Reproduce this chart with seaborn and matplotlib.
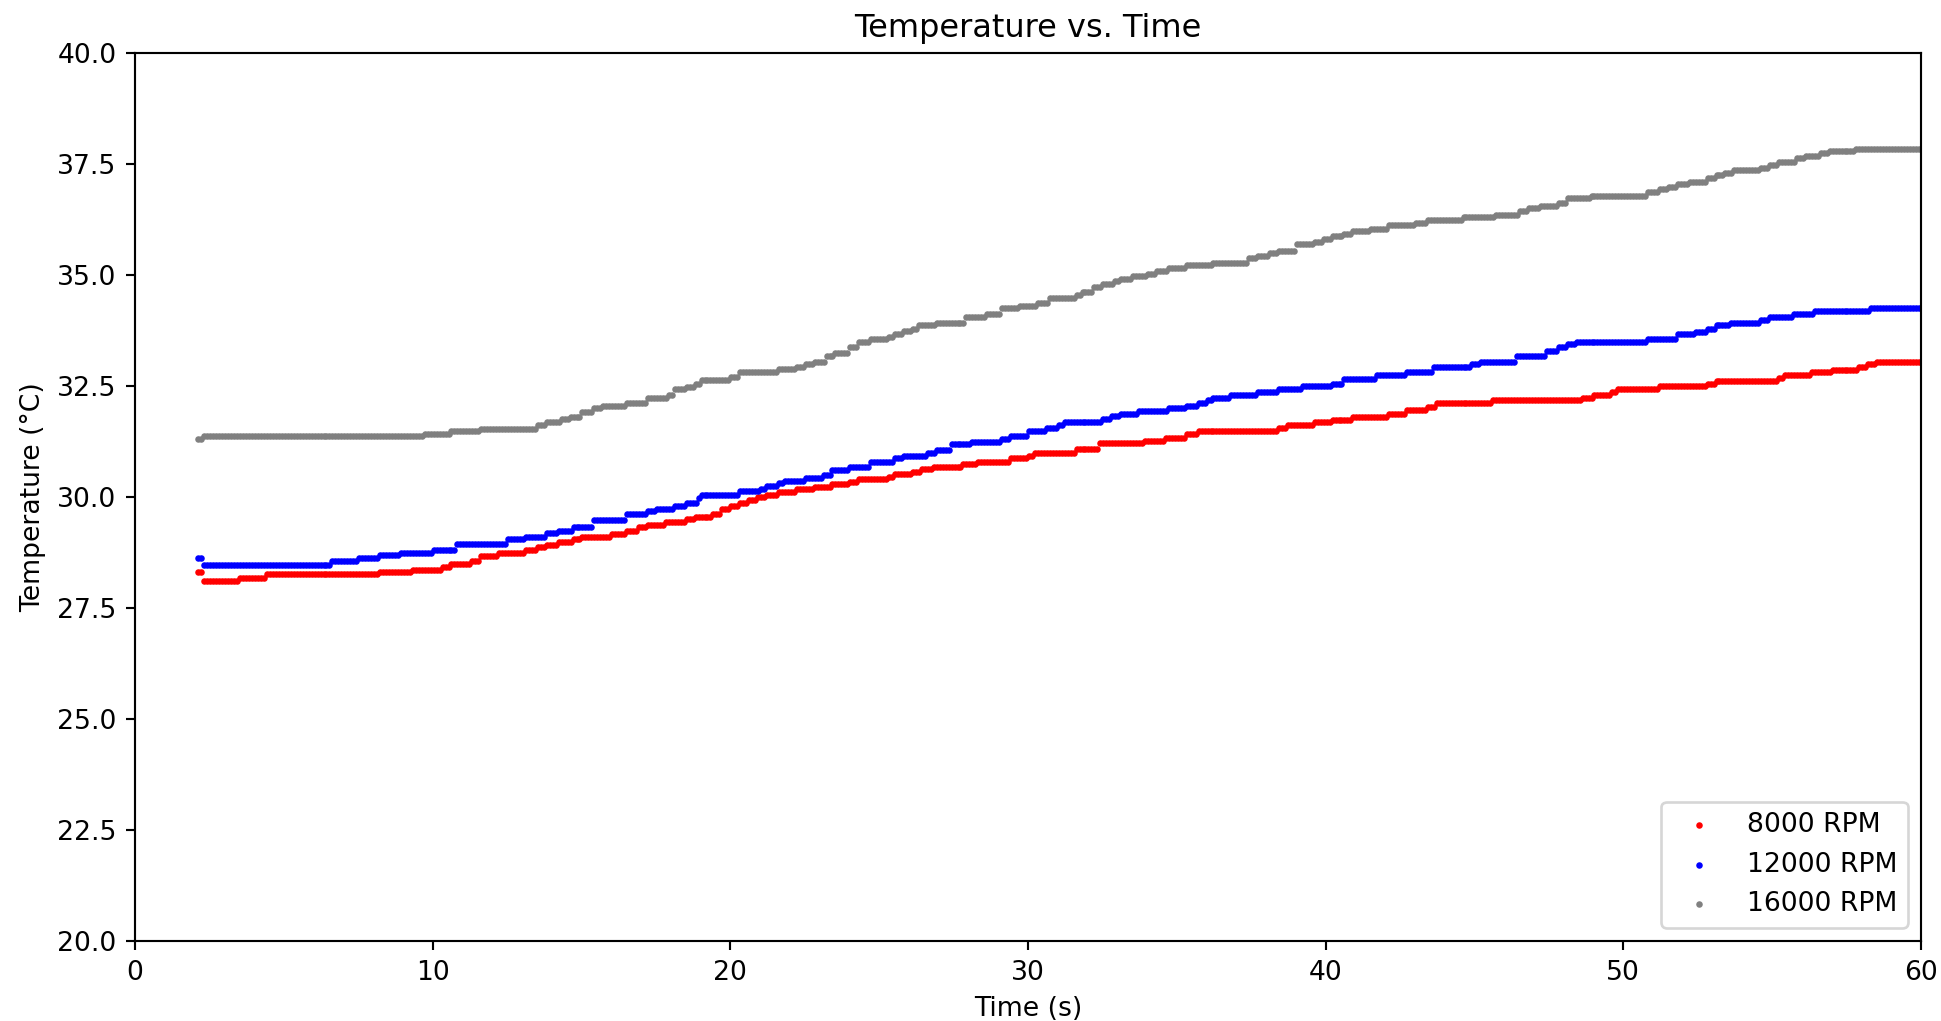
import numpy as np
import pandas as pd
import matplotlib
matplotlib.use("Agg")
import matplotlib.pyplot as plt
import seaborn as sns

# ---- data: (start time of each plateau, temperature level) ----
t8000 = [2.13, 2.24, 3.5, 4.34, 8.17, 9.3, 10.3, 10.6, 11.3, 11.6, 12.2, 13.1, 13.5, 13.8, 14.2, 14.7,
         15.0, 16.0, 16.5, 16.9, 17.2, 17.8, 18.5, 18.8, 19.4, 19.7, 20.0, 20.3, 20.6, 20.9, 21.2,
         21.6, 22.2, 22.8, 23.4, 24.0, 24.3, 25.3, 25.5, 26.1, 26.4, 26.8, 27.8, 28.3, 29.4, 30.0,
         30.2, 31.6, 32.4, 33.9, 34.6, 35.3, 35.7, 38.4, 38.7, 39.6, 40.2, 40.9, 42.1, 42.7, 43.4,
         43.7, 45.6, 48.6, 49.0, 49.6, 49.8, 51.2, 52.8, 53.1, 55.2, 55.4, 56.3, 57.0, 57.9, 58.2, 58.5]
T8000 = [28.30, 28.11, 28.18, 28.26, 28.31, 28.36, 28.43, 28.50, 28.57, 28.68, 28.75, 28.81, 28.87, 28.93,
         28.99, 29.06, 29.11, 29.17, 29.24, 29.33, 29.38, 29.44, 29.50, 29.56, 29.62, 29.74, 29.80,
         29.86, 29.93, 29.99, 30.05, 30.11, 30.17, 30.23, 30.29, 30.34, 30.41, 30.46, 30.52, 30.57,
         30.62, 30.68, 30.74, 30.80, 30.87, 30.92, 31.00, 31.08, 31.21, 31.27, 31.32, 31.43, 31.49,
         31.56, 31.62, 31.68, 31.74, 31.80, 31.86, 31.97, 32.03, 32.11, 32.18, 32.23, 32.29, 32.37,
         32.43, 32.49, 32.55, 32.62, 32.69, 32.75, 32.81, 32.87, 32.93, 32.99, 33.05]

t12000 = [2.13, 2.24, 6.6, 7.5, 8.17, 8.85, 10.0, 10.8, 12.5, 13.1, 13.8, 14.2, 14.7, 15.4, 16.5,
          17.2, 17.5, 18.1, 18.5, 18.9, 19.0, 20.3, 21.0, 21.2, 21.6, 21.8, 22.5, 23.1, 23.4, 24.0,
          24.7, 25.5, 25.8, 26.6, 26.9, 27.4, 28.1, 29.1, 29.4, 30.0, 30.6, 31.0, 31.2, 32.5, 32.8,
          33.1, 33.7, 34.7, 35.3, 35.7, 36.0, 36.2, 36.8, 37.7, 38.4, 39.2, 40.2, 40.6, 41.7, 42.7,
          43.6, 44.9, 45.2, 46.4, 47.4, 47.8, 48.1, 48.4, 50.8, 51.8, 52.4, 52.8, 53.1, 53.6, 54.6,
          54.9, 55.7, 56.4, 58.3, 59.95]
T12000 = [28.62, 28.48, 28.56, 28.62, 28.69, 28.74, 28.80, 28.94, 29.05, 29.11, 29.18, 29.24, 29.33,
          29.49, 29.61, 29.69, 29.74, 29.80, 29.87, 29.98, 30.05, 30.13, 30.19, 30.25, 30.31, 30.36,
          30.43, 30.50, 30.61, 30.67, 30.79, 30.87, 30.93, 30.99, 31.05, 31.19, 31.25, 31.31, 31.37,
          31.48, 31.55, 31.62, 31.68, 31.76, 31.82, 31.88, 31.94, 32.01, 32.06, 32.12, 32.18, 32.24,
          32.29, 32.37, 32.44, 32.49, 32.55, 32.66, 32.74, 32.82, 32.92, 32.99, 33.05, 33.18, 33.29,
          33.38, 33.44, 33.50, 33.56, 33.67, 33.72, 33.79, 33.87, 33.93, 33.99, 34.05, 34.13, 34.19,
          34.26, 34.31]

t16000 = [2.13, 2.24, 9.68, 10.6, 11.6, 13.5, 13.83, 14.28, 14.61, 15.0, 15.34, 15.68, 16.52, 17.19,
          17.9, 18.1, 18.5, 18.8, 19.0, 20.0, 20.3, 21.6, 22.2, 22.5, 22.8, 23.2, 23.5, 24.0, 24.3,
          24.7, 25.3, 25.5, 25.8, 26.1, 26.3, 26.85, 27.9, 28.6, 29.1, 29.7, 30.3, 30.7, 31.6, 31.8,
          32.2, 32.5, 32.9, 33.1, 33.5, 34.0, 34.3, 34.7, 35.3, 36.2, 37.4, 37.7, 38.1, 38.4, 39.0,
          39.6, 39.9, 40.2, 40.6, 40.9, 41.5, 42.1, 43.0, 43.4, 44.6, 45.7, 46.5, 46.8, 47.2, 47.8,
          48.1, 48.9, 50.8, 51.2, 51.5, 51.8, 52.2, 52.8, 53.1, 53.4, 53.7, 54.6, 54.9, 55.2, 55.8,
          56.1, 56.6, 56.9, 57.8]
T16000 = [31.30, 31.37, 31.43, 31.48, 31.53, 31.62, 31.68, 31.75, 31.81, 31.92, 32.00, 32.06, 32.11,
          32.24, 32.30, 32.43, 32.48, 32.55, 32.64, 32.70, 32.82, 32.88, 32.93, 32.99, 33.05, 33.18,
          33.24, 33.37, 33.50, 33.55, 33.61, 33.67, 33.73, 33.79, 33.87, 33.93, 34.05, 34.12, 34.25,
          34.31, 34.37, 34.49, 34.56, 34.62, 34.74, 34.80, 34.86, 34.92, 34.98, 35.03, 35.09, 35.16,
          35.22, 35.28, 35.38, 35.44, 35.50, 35.55, 35.69, 35.75, 35.81, 35.87, 35.93, 35.99, 36.04,
          36.12, 36.18, 36.24, 36.30, 36.36, 36.44, 36.50, 36.56, 36.62, 36.73, 36.79, 36.86, 36.94,
          36.99, 37.05, 37.10, 37.18, 37.25, 37.30, 37.36, 37.42, 37.48, 37.54, 37.63, 37.69, 37.74,
          37.80, 37.85]

labels = ["8000 RPM", "12000 RPM", "16000 RPM"]
colors = ["red", "blue", "gray"]

# sample instants of the logger (every 0.1 s)
sample_times = np.round(np.arange(2.13, 60.0 + 1e-9, 0.1), 3)


def hold(ts, vals, times):
    idx = np.searchsorted(np.asarray(ts), times, side="right") - 1
    idx = np.clip(idx, 0, len(vals) - 1)
    return np.asarray(vals)[idx]


series = [(t8000, T8000), (t12000, T12000), (t16000, T16000)]

DPI = 192
fig = plt.figure(figsize=(1941 / DPI, 1021 / DPI), dpi=DPI)
ax = fig.add_axes([0.0696, 0.0784, 0.9201, 0.8696])

for (ts, vs), lab, col in zip(series, labels, colors):
    df = pd.DataFrame({"Time": sample_times, "Temp": hold(ts, vs, sample_times)})
    sns.scatterplot(data=df, x="Time", y="Temp", color=col, s=6, linewidth=0,
                    label=lab, ax=ax)

ax.set_xlim(0, 60)
ax.set_ylim(20, 40)
ax.set_yticks(np.arange(20, 40.01, 2.5))
ax.set_yticklabels([f"{v:.1f}" for v in np.arange(20, 40.01, 2.5)])
ax.set_title("Temperature vs. Time", fontsize=12)
ax.set_xlabel("Time (s)", fontsize=10)
ax.set_ylabel("Temperature (°C)", fontsize=10)
ax.tick_params(labelsize=10)
ax.legend(loc="lower right", fontsize=10)

fig.savefig("out.png", dpi=DPI)
